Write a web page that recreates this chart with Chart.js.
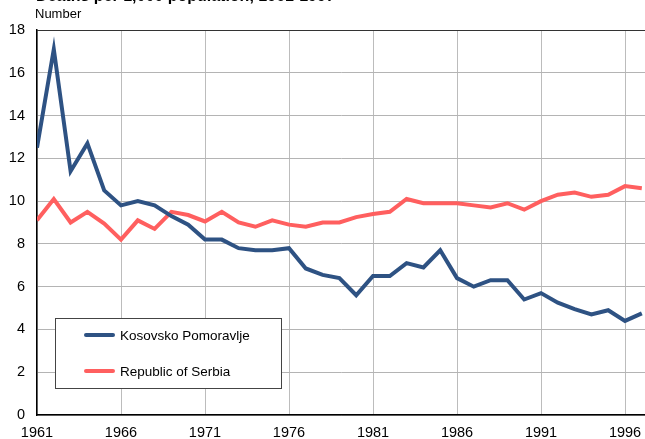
<!DOCTYPE html>
<html><head><meta charset="utf-8">
<script src="https://cdn.jsdelivr.net/npm/chart.js@4/dist/chart.umd.min.js"></script>
<style>html,body{margin:0;padding:0;background:#fff;overflow:hidden}#wrap{position:relative;width:645px;height:439px}</style>
</head><body><div id="wrap"><canvas id="c" width="645" height="439"></canvas></div>
<script>
const titleText = "Deaths per 1,000 population, 1961-1997";
const yAxisLabel = "Number";
const years = [1961,1962,1963,1964,1965,1966,1967,1968,1969,1970,1971,1972,1973,1974,1975,1976,1977,1978,1979,1980,1981,1982,1983,1984,1985,1986,1987,1988,1989,1990,1991,1992,1993,1994,1995,1996,1997];
const kosovoPomoravlje = [12.5,17.1,11.4,12.7,10.5,9.8,10.0,9.8,9.3,8.9,8.2,8.2,7.8,7.7,7.7,7.8,6.85,6.55,6.4,5.6,6.5,6.5,7.1,6.9,7.7,6.4,6.0,6.3,6.3,5.4,5.7,5.25,4.95,4.7,4.9,4.4,4.75];
const republicOfSerbia = [9.1,10.1,9.0,9.5,8.95,8.2,9.1,8.7,9.5,9.35,9.05,9.5,9.0,8.8,9.1,8.9,8.8,9.0,9.0,9.25,9.4,9.5,10.1,9.9,9.9,9.9,9.8,9.7,9.9,9.6,10.0,10.3,10.4,10.2,10.3,10.7,10.6];
const seriesNames = ["Kosovsko Pomoravlje", "Republic of Serbia"];
const xTickYears = [1961,1966,1971,1976,1981,1986,1991,1996];
const yTickValues = [0,2,4,6,8,10,12,14,16,18];

const BLUE = '#2e5283', RED = '#ff5f5f';
const FONT = "'Liberation Sans', Arial, sans-serif";

const textPlugin = {
  id: 'texts',
  afterDatasetsDraw(chart) {
    const ctx = chart.ctx;
    ctx.save();
    ctx.fillStyle = '#fff';
    ctx.fillRect(55, 318, 227, 71);
    ctx.strokeStyle = '#444';
    ctx.lineWidth = 1;
    ctx.strokeRect(55.5, 318.5, 226, 70);
    const items = [[seriesNames[0], BLUE, 335], [seriesNames[1], RED, 371]];
    ctx.font = "13.5px " + FONT;
    ctx.textBaseline = 'middle';
    ctx.textAlign = 'left';
    for (const [t, c, y] of items) {
      ctx.strokeStyle = c; ctx.lineWidth = 4; ctx.lineCap = 'round';
      ctx.beginPath(); ctx.moveTo(86, y); ctx.lineTo(113, y); ctx.stroke();
      ctx.fillStyle = '#000';
      ctx.fillText(t, 120, y + 1);
    }
    ctx.restore();
  },
  afterDraw(chart) {
    const ctx = chart.ctx;
    ctx.save();
    ctx.fillStyle = '#000';
    ctx.textAlign = 'left';
    ctx.textBaseline = 'alphabetic';
    ctx.font = "13px " + FONT;
    ctx.fillText(yAxisLabel, 35, 18);
    ctx.font = "bold 16px " + FONT;
    ctx.fillText(titleText, 36, 0.5);
    const a = chart.chartArea;
    ctx.strokeStyle = '#333';
    ctx.lineWidth = 1;
    ctx.beginPath(); ctx.moveTo(a.left, a.top + 0.5); ctx.lineTo(a.right, a.top + 0.5); ctx.stroke();
    ctx.restore();
  }
};

new Chart(document.getElementById('c'), {
  type: 'line',
  data: {
    datasets: [
      { label: seriesNames[0], data: years.map((y,i)=>({x:y, y:kosovoPomoravlje[i]})), borderColor: BLUE, backgroundColor: BLUE, borderWidth: 4, pointRadius: 0, tension: 0, borderJoinStyle: 'miter', borderCapStyle: 'butt' },
      { label: seriesNames[1], data: years.map((y,i)=>({x:y, y:republicOfSerbia[i]})), borderColor: RED, backgroundColor: RED, borderWidth: 4, pointRadius: 0, tension: 0, borderJoinStyle: 'miter', borderCapStyle: 'butt' }
    ]
  },
  options: {
    responsive: false,
    devicePixelRatio: 1,
    animation: false,
    layout: { padding: { left: 0, top: 30, right: 0, bottom: 0 } },
    plugins: { legend: { display: false }, tooltip: { enabled: false }, title: { display: false } },
    scales: {
      x: {
        type: 'linear', min: 1961, max: 1997.19,
        afterBuildTicks: s => { s.ticks = xTickYears.map(v => ({ value: v })); },
        afterFit: s => { s.height = 24; s.paddingLeft = 0; s.paddingRight = 0; },
        ticks: { callback: v => String(v), color: '#000', font: { family: FONT, size: 14.5 }, padding: 9, maxRotation: 0, autoSkip: false },
        grid: { color: '#bcbcbc', lineWidth: 1, drawTicks: false },
        border: { color: '#000', width: 1.5 }
      },
      y: {
        min: 0, max: 18,
        afterBuildTicks: s => { s.ticks = yTickValues.map(v => ({ value: v })); },
        afterFit: s => { s.width = 37; s.paddingTop = 0; s.paddingBottom = 0; },
        ticks: { color: '#000', font: { family: FONT, size: 14.5 }, padding: 12 },
        grid: { color: '#b4b4b4', lineWidth: 1, drawTicks: false },
        border: { color: '#000', width: 1.5 }
      }
    }
  },
  plugins: [textPlugin]
});
</script>
</body></html>
